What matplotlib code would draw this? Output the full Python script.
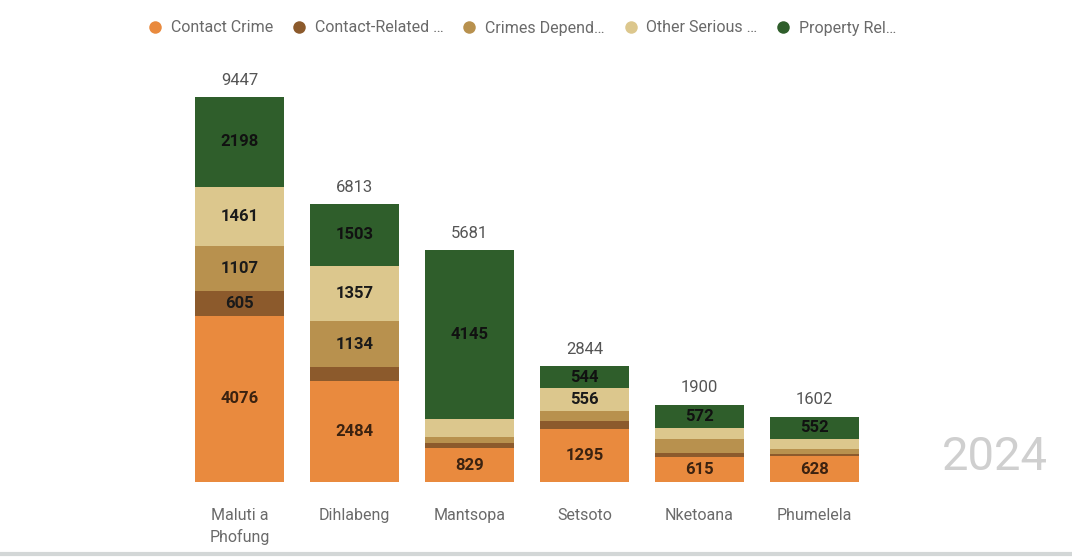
import matplotlib
matplotlib.use("Agg")
import matplotlib.pyplot as plt
import numpy as np

plt.rcParams['font.family'] = ['Roboto', 'DejaVu Sans']

municipalities = ["Maluti a\nPhofung", "Dihlabeng", "Mantsopa", "Setsoto", "Nketoana", "Phumelela"]
series_names = ["Contact Crime", "Contact-Related …", "Crimes Depend…", "Other Serious …", "Property Rel…"]

contact_crime = [4076, 2484, 829, 1295, 615, 628]
contact_related = [605, 335, 127, 199, 85, 67]
crimes_dependent = [1107, 1134, 160, 250, 352, 110]
other_serious = [1461, 1357, 420, 556, 276, 245]
property_related = [2198, 1503, 4145, 544, 572, 552]

# which segments carry a value label (small segments stay unlabelled)
label_contact = [True, True, True, True, True, True]
label_related = [True, False, False, False, False, False]
label_dependent = [True, True, False, False, False, False]
label_other = [True, True, False, True, False, False]
label_property = [True, True, True, True, True, True]

colors = ["#E98A3E", "#8C5A2C", "#B8914E", "#DCC78D", "#2F5E2B"]
text_colors = ["#3b2210", "#1a1a1a", "#1a1a1a", "#1a1a1a", "#111111"]

series = [contact_crime, contact_related, crimes_dependent, other_serious, property_related]
show = [label_contact, label_related, label_dependent, label_other, label_property]

fig = plt.figure(figsize=(10.72, 5.58), dpi=100)
ax = fig.add_axes([182 / 1072, 76 / 558, 690 / 1072, 407.5 / 558])

x = np.arange(len(municipalities))
bottom = np.zeros(len(municipalities))
for vals, col, tcol, flags in zip(series, colors, text_colors, show):
    vals = np.array(vals, dtype=float)
    ax.bar(x, vals, bottom=bottom, width=0.78, color=col, edgecolor="none")
    for xi, v, b, f in zip(x, vals, bottom, flags):
        if f:
            ax.text(xi, b + v / 2, f"{int(v)}", ha="center", va="center",
                    fontsize=12, fontweight="bold", color=tcol)
    bottom += vals

for xi, tot in zip(x, bottom):
    ax.text(xi, tot + 230, f"{int(tot)}", ha="center", va="bottom",
            fontsize=12, color="#555555")

ax.set_xlim(-0.5, 5.5)
ax.set_ylim(0, 10000)
ax.set_yticks([])
ax.set_xticks(x)
ax.set_xticklabels(municipalities, fontsize=11.5, color="#6a6a6a", linespacing=1.45)
ax.tick_params(axis="x", length=0, pad=19)
for s in ax.spines.values():
    s.set_visible(False)

# legend row
handles = [plt.Line2D([0], [0], marker="o", linestyle="none", markersize=9,
                      markerfacecolor=c, markeredgecolor="none") for c in colors]
fig.legend(handles, series_names, loc="center", bbox_to_anchor=(518 / 1072, 1 - 28 / 558),
           ncol=5, frameon=False, fontsize=11.5, handletextpad=0.0, columnspacing=0.6,
           labelcolor="#6a6a6a")

# year watermark
fig.text(995 / 1072, 1 - 457 / 558, "2024", ha="center", va="center",
         fontsize=34, color="#cfcfcf")

# bottom rule
fig.add_artist(plt.Line2D([0, 1], [4 / 558, 4 / 558], transform=fig.transFigure,
                          color="#d3d7d7", linewidth=3))

fig.savefig("out.png", dpi=100, facecolor="white")
